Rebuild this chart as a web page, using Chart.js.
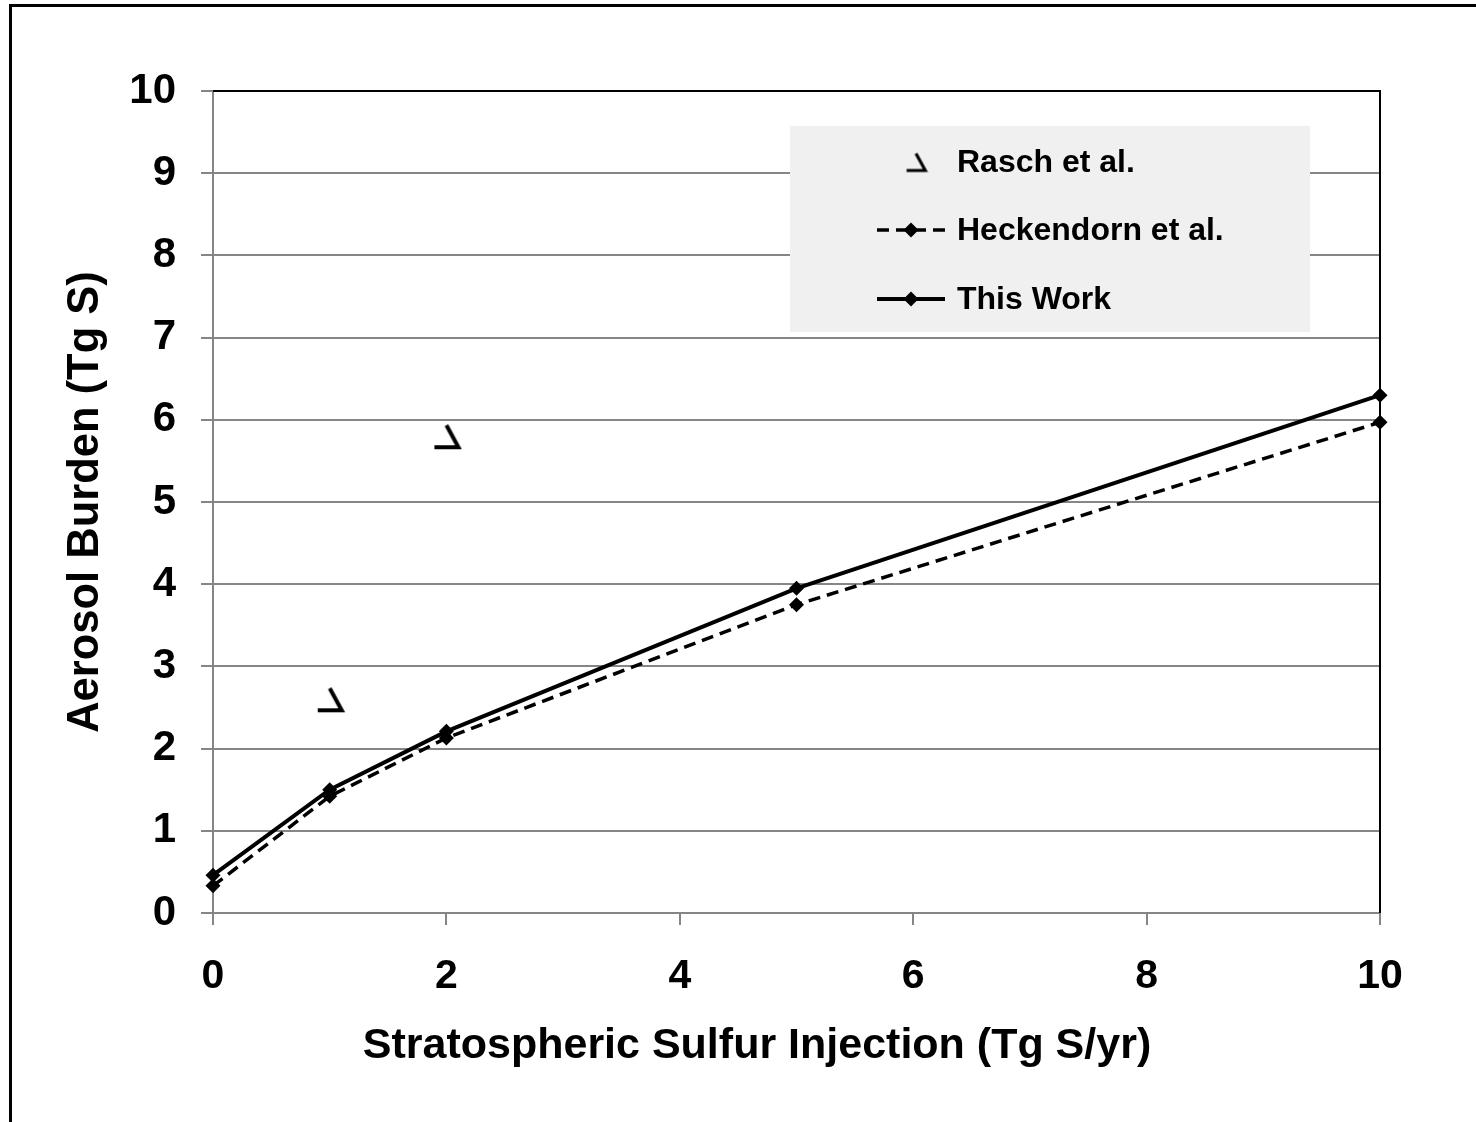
<!DOCTYPE html>
<html><head><meta charset="utf-8">
<script src="https://cdn.jsdelivr.net/npm/chart.js@4.4.0/dist/chart.umd.min.js"></script>
<style>
html,body{margin:0;padding:0;background:#fff;overflow:hidden;}
#wrap{position:relative;width:1476px;height:1122px;overflow:hidden;}
#frame{position:absolute;left:9px;top:4px;width:1600px;height:1300px;border-left:3px solid #000;border-top:3px solid #000;pointer-events:none;}
canvas{position:absolute;left:0;top:0;}
</style></head><body>
<div id="wrap"><canvas id="c" width="1476" height="1122"></canvas><div id="frame"></div></div>
<script>
// ---- data ----
const injection = [0, 1, 2, 5, 10];
const raschInjection = [1, 2];
const raschBurden = [2.6, 5.8];
const heckendornBurden = [0.33, 1.42, 2.13, 3.75, 5.97];
const thisWorkBurden = [0.46, 1.50, 2.21, 3.95, 6.30];
const seriesNames = ['Rasch et al.', 'Heckendorn et al.', 'This Work'];
const xTitle = 'Stratospheric Sulfur Injection (Tg S/yr)';
const yTitle = 'Aerosol Burden (Tg S)';

const FONT = '"Liberation Sans", Arial, Helvetica, sans-serif';
const GRID = '#868686';

function raschMarker(s) {
  const n = Math.ceil(32 * s);
  const c = document.createElement('canvas');
  c.width = n; c.height = n;
  const g = c.getContext('2d');
  g.scale(s, s);
  g.strokeStyle = '#000';
  g.lineWidth = 4;
  g.lineJoin = 'miter';
  g.beginPath();
  g.moveTo(16, 5);
  g.lineTo(28, 27);
  g.lineTo(4, 27);
  g.stroke();
  return c;
}
const raschImg = raschMarker(1);
const raschLegendImg = raschMarker(0.78);

const toXY = (xs, ys) => xs.map((x, i) => ({x: x, y: ys[i]}));

const frameBorder = {
  id: 'frameBorder',
  beforeDatasetsDraw(chart) {
    const {ctx, chartArea: a} = chart;
    ctx.save();
    ctx.strokeStyle = '#000';
    ctx.lineWidth = 2;
    ctx.beginPath();
    ctx.moveTo(a.left, a.top);
    ctx.lineTo(a.right, a.top);
    ctx.lineTo(a.right, a.bottom);
    ctx.stroke();
    ctx.restore();
  }
};

const xTitlePlugin = {
  id: 'xTitlePlugin',
  afterDraw(chart) {
    const {ctx, chartArea: a} = chart;
    ctx.save();
    ctx.fillStyle = '#000';
    ctx.font = 'bold 43px ' + FONT;
    ctx.textAlign = 'center';
    ctx.textBaseline = 'middle';
    ctx.fillText(xTitle, a.left + 544, a.bottom + 133);
    ctx.restore();
  }
};

const boxLegend = {
  id: 'boxLegend',
  afterDraw(chart) {
    const {ctx, chartArea: a} = chart;
    const L = a.right - 590, T = a.top + 35, W = 520, H = 206;
    ctx.save();
    ctx.fillStyle = '#f0f0f0';
    ctx.fillRect(L, T, W, H);
    const rows = [T + 36, T + 104, T + 173];
    const x0 = L + 87, x1 = L + 155, xm = (x0 + x1) / 2, tx = L + 167;
    chart.data.datasets.forEach((ds, i) => {
      const y = rows[i];
      if (ds.showLine !== false) {
        ctx.strokeStyle = ds.borderColor;
        ctx.lineWidth = ds.borderWidth;
        ctx.setLineDash(ds.borderDash || []);
        if (ds.borderDash) {
          ctx.beginPath(); ctx.moveTo(x0, y); ctx.lineTo(xm, y); ctx.stroke();
          ctx.beginPath(); ctx.moveTo(x1, y); ctx.lineTo(xm, y); ctx.stroke();
        } else {
          ctx.beginPath(); ctx.moveTo(x0, y); ctx.lineTo(x1, y); ctx.stroke();
        }
        ctx.setLineDash([]);
        const r = ds.pointRadius;
        ctx.fillStyle = '#000';
        ctx.beginPath();
        ctx.moveTo(xm, y - r); ctx.lineTo(xm + r, y); ctx.lineTo(xm, y + r); ctx.lineTo(xm - r, y);
        ctx.closePath(); ctx.fill();
      } else {
        ctx.drawImage(raschLegendImg, xm + 5 - raschLegendImg.width / 2, y - raschLegendImg.height / 2);
      }
      ctx.fillStyle = '#000';
      ctx.font = 'bold 32px ' + FONT;
      ctx.textAlign = 'left';
      ctx.textBaseline = 'middle';
      ctx.fillText(ds.label, tx, y + 1);
    });
    ctx.restore();
  }
};

new Chart(document.getElementById('c'), {
  type: 'line',
  data: {
    datasets: [
      {label: seriesNames[0], data: toXY(raschInjection, raschBurden), showLine: false,
       pointStyle: raschImg, pointRadius: 16, borderColor: '#000', backgroundColor: '#000', clip: false},
      {label: seriesNames[1], data: toXY(injection, heckendornBurden), borderColor: '#000', backgroundColor: '#000',
       borderWidth: 3.5, borderDash: [12, 7], pointStyle: 'rectRot', pointRadius: 7.5, pointBorderWidth: 0, clip: false},
      {label: seriesNames[2], data: toXY(injection, thisWorkBurden), borderColor: '#000', backgroundColor: '#000',
       borderWidth: 4, pointStyle: 'rectRot', pointRadius: 7.5, pointBorderWidth: 0, clip: false}
    ]
  },
  options: {
    responsive: false,
    animation: false,
    devicePixelRatio: 1,
    layout: {padding: {top: 91, right: 96, left: 0, bottom: 0}},
    plugins: {legend: {display: false}, tooltip: {enabled: false}},
    scales: {
      x: {
        type: 'linear', min: 0, max: 10,
        ticks: {stepSize: 2, padding: 27, color: '#000', font: {family: FONT, size: 41, weight: 'bold'}},
        grid: {drawOnChartArea: false, drawTicks: true, tickLength: 12, color: GRID, lineWidth: 2},
        border: {color: GRID, width: 2},
        title: {display: false},
        afterFit: s => { s.height = 209; }
      },
      y: {
        type: 'linear', min: 0, max: 10,
        ticks: {stepSize: 1, padding: 25, color: '#000', font: {family: FONT, size: 42, weight: 'bold'}},
        grid: {color: GRID, lineWidth: 2, tickLength: 12},
        border: {color: GRID, width: 2},
        title: {display: true, text: yTitle, color: '#000', font: {family: FONT, size: 43.5, weight: 'bold'}, padding: {top: 60, bottom: 0}},
        afterFit: s => { s.width = 213; }
      }
    }
  },
  plugins: [frameBorder, boxLegend, xTitlePlugin]
});
</script>
</body></html>
